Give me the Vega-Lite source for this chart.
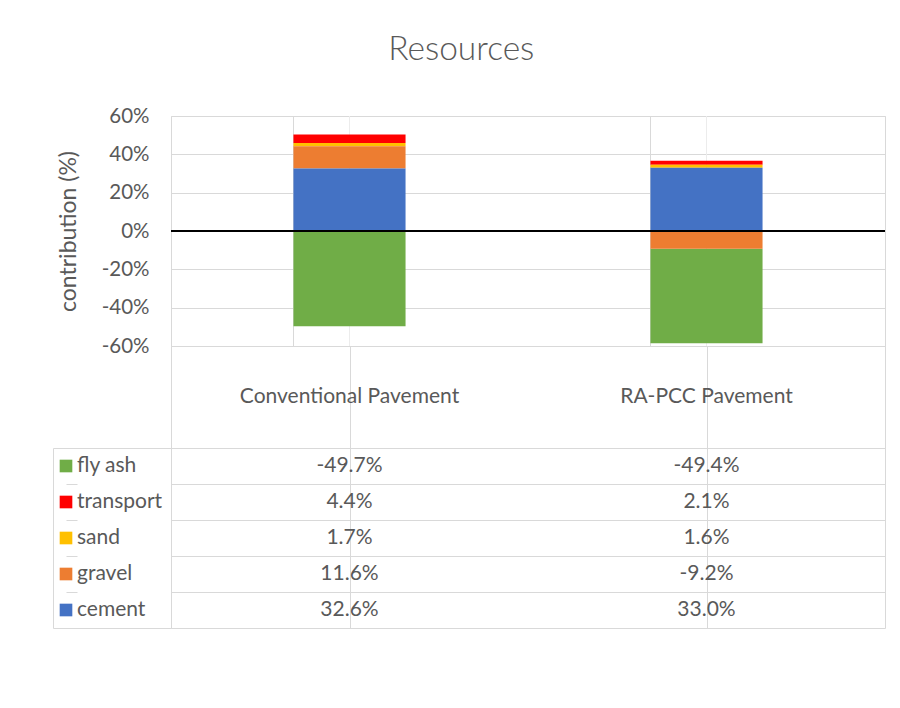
{
  "$schema": "https://vega.github.io/schema/vega-lite/v6.json",
  "background": "white",
  "padding": {"left": 52, "top": 33, "right": 16, "bottom": 10},
  "title": {"text": "Resources", "fontSize": 33.5, "font": "Lato", "fontWeight": 300, "color": "#595959", "offset": 38, "dx": -8, "anchor": "middle"},
  "config": {
    "font": "Lato",
    "locale": {"number": {"decimal": ".", "thousands": ",", "grouping": [3], "currency": ["$", ""], "minus": "-"}},
    "view": {"stroke": "#d9d9d9", "strokeWidth": 1},
    "axis": {"labelFont": "Lato", "titleFont": "Lato", "labelColor": "#595959", "titleColor": "#595959"},
    "axisY": {"labelOverlap": false}
  },
  "datasets": {
    "contrib": [
      {"pavement": "Conventional Pavement", "series": "fly ash", "seriesIndex": 5, "value": -0.497},
      {"pavement": "Conventional Pavement", "series": "transport", "seriesIndex": 4, "value": 0.044},
      {"pavement": "Conventional Pavement", "series": "sand", "seriesIndex": 3, "value": 0.017},
      {"pavement": "Conventional Pavement", "series": "gravel", "seriesIndex": 2, "value": 0.116},
      {"pavement": "Conventional Pavement", "series": "cement", "seriesIndex": 1, "value": 0.326},
      {"pavement": "RA-PCC Pavement", "series": "fly ash", "seriesIndex": 5, "value": -0.494},
      {"pavement": "RA-PCC Pavement", "series": "transport", "seriesIndex": 4, "value": 0.021},
      {"pavement": "RA-PCC Pavement", "series": "sand", "seriesIndex": 3, "value": 0.016},
      {"pavement": "RA-PCC Pavement", "series": "gravel", "seriesIndex": 2, "value": -0.092},
      {"pavement": "RA-PCC Pavement", "series": "cement", "seriesIndex": 1, "value": 0.330}
    ],
    "pavements": [
      {"pavement": "Conventional Pavement"},
      {"pavement": "RA-PCC Pavement"}
    ],
    "seriesList": [
      {"series": "fly ash"},
      {"series": "transport"},
      {"series": "sand"},
      {"series": "gravel"},
      {"series": "cement"}
    ]
  },
  "columns": 2,
  "spacing": 0,
  "align": "each",
  "bounds": "flush",
  "resolve": {"scale": {"x": "independent", "y": "independent", "color": "shared"}},
  "concat": [
    {
      "width": 118, "height": 230,
      "view": {"stroke": null},
      "data": {"values": []},
      "mark": "text",
      "encoding": {}
    },
    {
      "width": 714, "height": 230,
      "data": {"name": "contrib"},
      "layer": [
        {
          "mark": {"type": "rule", "color": "#ececec", "strokeWidth": 1},
          "encoding": {
            "x": {"field": "pavement", "type": "nominal", "sort": null,
              "scale": {"paddingInner": 0.686, "paddingOuter": 0.343},
              "axis": {"title": null, "labels": false, "ticks": false, "domain": false, "grid": true, "gridColor": "#d9d9d9", "gridWidth": 1, "bandPosition": 0}}
          }
        },
        {
          "mark": {"type": "bar"},
          "encoding": {
            "x": {"field": "pavement", "type": "nominal", "sort": null,
              "scale": {"paddingInner": 0.686, "paddingOuter": 0.343},
              "axis": {"title": null, "labels": false, "ticks": false, "domain": false, "grid": true, "gridColor": "#d9d9d9", "gridWidth": 1, "bandPosition": 0}},
            "y": {"field": "value", "type": "quantitative", "stack": "zero",
              "scale": {"domain": [-0.6, 0.6], "nice": false},
              "axis": {"title": "contribution (%)", "format": ".0%", "values": [-0.6, -0.4, -0.2, 0, 0.2, 0.4, 0.6],
                "labelOverlap": false, "labelFlush": false,
                "grid": true, "gridColor": "#d9d9d9", "gridWidth": 1, "domain": false, "ticks": false,
                "labelPadding": 22, "labelFontSize": 20.5, "titleFontSize": 23, "titleFontWeight": "normal", "titlePadding": 21}},
            "color": {"field": "series", "type": "nominal",
              "scale": {"domain": ["cement", "gravel", "sand", "transport", "fly ash"], "range": ["#4472C4", "#ED7D31", "#FFC000", "#FF0000", "#70AD47"]},
              "legend": null},
            "order": {"field": "seriesIndex", "type": "quantitative", "sort": "ascending"}
          }
        },
        {
          "mark": {"type": "rule", "color": "#000000", "strokeWidth": 1},
          "encoding": {"y": {"datum": 0, "type": "quantitative",
            "axis": {"title": "contribution (%)", "format": ".0%", "values": [-0.6, -0.4, -0.2, 0, 0.2, 0.4, 0.6],
                "labelOverlap": false, "labelFlush": false,
                "grid": true, "gridColor": "#d9d9d9", "gridWidth": 1, "domain": false, "ticks": false,
                "labelPadding": 22, "labelFontSize": 20.5, "titleFontSize": 23, "titleFontWeight": "normal", "titlePadding": 21}}}
        }
      ]
    },
    {
      "width": 118, "height": 102,
      "view": {"stroke": null},
      "data": {"values": []},
      "mark": "text",
      "encoding": {}
    },
    {
      "width": 714, "height": 102,
      "data": {"name": "pavements"},
      "mark": {"type": "text", "fontSize": 21, "color": "#595959", "baseline": "middle", "font": "Lato"},
      "encoding": {
        "x": {"field": "pavement", "type": "nominal", "sort": null,
          "scale": {"paddingInner": 0, "paddingOuter": 0},
          "axis": {"title": null, "labels": false, "ticks": false, "domain": false, "grid": true, "gridColor": "#d9d9d9", "gridWidth": 1, "bandPosition": 0}},
        "text": {"field": "pavement"}
      }
    },
    {
      "width": 118, "height": 180,
      "data": {"name": "seriesList"},
      "layer": [
        {
          "mark": {"type": "point", "shape": "square", "filled": true, "opacity": 1, "size": 160},
          "encoding": {
            "x": {"datum": "swatch", "type": "nominal",
              "scale": {"type": "point", "domain": ["swatch", "label"], "padding": 0, "range": [13, 24]},
              "axis": null},
            "y": {"field": "series", "type": "nominal", "sort": ["fly ash", "transport", "sand", "gravel", "cement"],
              "scale": {"type": "band", "paddingInner": 0, "paddingOuter": 0},
              "axis": {"title": null, "labels": false, "ticks": false, "domain": false, "grid": true, "gridColor": "#d9d9d9", "gridWidth": 1, "bandPosition": 0}},
            "color": {"field": "series", "type": "nominal",
              "scale": {"domain": ["cement", "gravel", "sand", "transport", "fly ash"], "range": ["#4472C4", "#ED7D31", "#FFC000", "#FF0000", "#70AD47"]},
              "legend": null}
          }
        },
        {
          "mark": {"type": "text", "fontSize": 21, "color": "#595959", "align": "left", "baseline": "middle", "font": "Lato"},
          "encoding": {
            "x": {"datum": "label", "type": "nominal",
              "scale": {"type": "point", "domain": ["swatch", "label"], "padding": 0, "range": [13, 24]},
              "axis": null},
            "y": {"field": "series", "type": "nominal", "sort": ["fly ash", "transport", "sand", "gravel", "cement"],
              "scale": {"type": "band", "paddingInner": 0, "paddingOuter": 0},
              "axis": {"title": null, "labels": false, "ticks": false, "domain": false, "grid": true, "gridColor": "#d9d9d9", "gridWidth": 1, "bandPosition": 0}},
            "text": {"field": "series"}
          }
        }
      ]
    },
    {
      "width": 714, "height": 180,
      "data": {"name": "contrib"},
      "mark": {"type": "text", "fontSize": 21, "color": "#595959", "baseline": "middle", "font": "Lato"},
      "encoding": {
        "x": {"field": "pavement", "type": "nominal", "sort": null,
          "scale": {"paddingInner": 0, "paddingOuter": 0},
          "axis": {"title": null, "labels": false, "ticks": false, "domain": false, "grid": true, "gridColor": "#d9d9d9", "gridWidth": 1, "bandPosition": 0}},
        "y": {"field": "series", "type": "nominal", "sort": ["fly ash", "transport", "sand", "gravel", "cement"],
          "scale": {"type": "band", "paddingInner": 0, "paddingOuter": 0},
          "axis": {"title": null, "labels": false, "ticks": false, "domain": false, "grid": true, "gridColor": "#d9d9d9", "gridWidth": 1, "bandPosition": 0}},
        "text": {"field": "value", "type": "quantitative", "format": ".1%"}
      }
    }
  ]
}
